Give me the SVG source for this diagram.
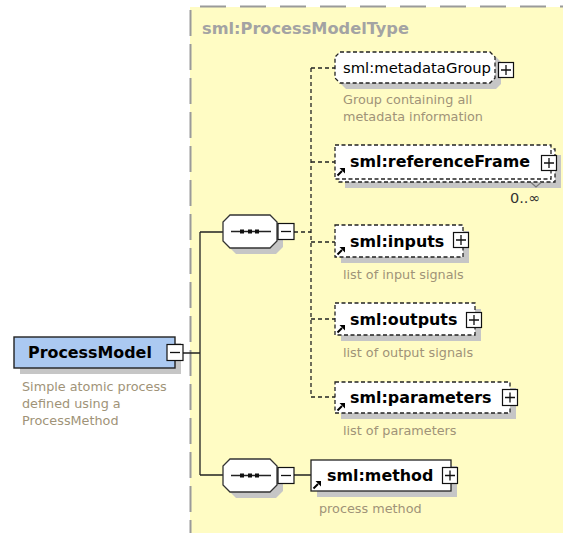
<svg xmlns="http://www.w3.org/2000/svg" width="563" height="533" viewBox="0 0 563 533">
  <style>
    .name { font-family: "DejaVu Sans", Verdana, sans-serif; font-weight: bold; font-size: 15.9px; fill: #000; }
    .gname { font-family: "DejaVu Sans", Verdana, sans-serif; font-size: 14.8px; fill: #000; }
    .desc { font-family: "DejaVu Sans", Verdana, sans-serif; font-size: 12.8px; fill: #a09378; }
    .typelabel { font-family: "DejaVu Sans", Verdana, sans-serif; font-weight: bold; font-size: 16.2px; fill: #a3a3a3; }
    .occ { font-family: "DejaVu Sans", Verdana, sans-serif; font-size: 14.5px; fill: #333; }
    .shadow { fill: #c6c6c6; stroke: none; }
    .optbox { fill: #fff; stroke: #222; stroke-width: 1.3; stroke-dasharray: 4 2.5; }
    .reqbox { fill: #fff; stroke: #222; stroke-width: 1.3; }
    .toggle { fill: #fff; stroke: #111; stroke-width: 1.2; }
    .sign { stroke: #111; stroke-width: 1.3; fill: none; }
    .solid { stroke: #222; stroke-width: 1.3; fill: none; }
    .dashed { stroke: #222; stroke-width: 1.3; fill: none; stroke-dasharray: 4 3; }
  </style>
  <defs>
    <!-- reference arrow drawn at the lower-left corner of referenced elements -->
    <g id="refArrow">
      <line x1="0.5" y1="7.5" x2="5" y2="3" stroke="#000" stroke-width="2"/>
      <polygon points="8,0 8,5.5 2.5,0" fill="#000"/>
    </g>
    <!-- sequence compositor: chamfered octagon with three dots -->
    <g id="sequence">
      <polygon class="shadow" points="13,6 53,6 60,13 60,32 53,39 13,39 6,32 6,13"/>
      <polygon points="7,0 47,0 54,7 54,26 47,33 7,33 0,26 0,7" fill="#fff" stroke="#333" stroke-width="1.3"/>
      <line x1="8" y1="16.5" x2="48" y2="16.5" stroke="#222" stroke-width="1.3"/>
      <rect x="17" y="14.5" width="4" height="4" fill="#111"/>
      <rect x="25" y="14.5" width="4" height="4" fill="#111"/>
      <rect x="32" y="14.5" width="4" height="4" fill="#111"/>
      <rect x="55" y="8.5" width="16" height="16" class="toggle"/>
      <line x1="58" y1="16.5" x2="68" y2="16.5" class="sign"/>
    </g>
  </defs>

  <!-- complex type area -->
  <rect x="190" y="7" width="373" height="526" fill="#fffcc4"/>
  <line x1="190.5" y1="10" x2="190.5" y2="533" stroke="#9a9a9a" stroke-width="2" stroke-dasharray="26 8"/>
  <line x1="200" y1="6.5" x2="563" y2="6.5" stroke="#9a9a9a" stroke-width="2" stroke-dasharray="26 14"/>
  <text class="typelabel" x="202" y="34">sml:ProcessModelType</text>

  <!-- connectors -->
  <g id="connectors">
    <path class="solid" d="M183,353 H200 M200,232 V475 M200,232 H223 M200,475 H223 M294,475 H311"/>
    <path class="dashed" d="M294,232 H311 M311,68 V397 M311,68 H335 M311,162 H335 M311,242 H335 M311,319 H335 M311,397 H335"/>
  </g>

  <!-- root element -->
  <g id="ProcessModel">
    <rect class="shadow" x="20" y="343" width="161" height="31"/>
    <rect x="14" y="337" width="161" height="31" fill="#abc9f1" stroke="#222" stroke-width="1.4"/>
    <text class="name" x="28" y="358" font-size="16.5">ProcessModel</text>
    <rect class="toggle" x="167" y="344.5" width="16" height="16"/>
    <line class="sign" x1="170" y1="352.5" x2="180" y2="352.5"/>
    <text class="desc" x="22" y="391">Simple atomic process</text>
    <text class="desc" x="22" y="408">defined using a</text>
    <text class="desc" x="22" y="425">ProcessMethod</text>
  </g>

  <!-- sequence compositors -->
  <g id="sequence1"><use href="#sequence" x="223" y="215"/></g>
  <g id="sequence2"><use href="#sequence" x="223" y="459"/></g>

  <!-- model group reference -->
  <g id="metadataGroup">
    <polygon class="shadow" points="346,57 496,57 501,62 501,84 496,89 346,89 341,84 341,62"/>
    <polygon class="optbox" points="340,52 490,52 495,57 495,78 490,83 340,83 335,78 335,57"/>
    <text class="gname" x="343" y="73">sml:metadataGroup</text>
    <rect class="toggle" x="498.5" y="62.5" width="15" height="15"/>
    <path class="sign" d="M501,70 H511 M506,65 V75"/>
    <text class="desc" x="343" y="104">Group containing all</text>
    <text class="desc" x="343" y="121">metadata information</text>
  </g>

  <!-- optional, unbounded element -->
  <g id="referenceFrame">
    <rect class="shadow" x="345" y="155" width="216" height="33"/>
    <rect class="optbox" x="339" y="149" width="216" height="33"/>
    <rect class="optbox" x="335" y="145" width="216" height="34"/>
    <polyline points="531,182.5 536,187 541,182.5" fill="none" stroke="#777" stroke-width="1.2"/>
    <use href="#refArrow" x="337" y="168"/>
    <text class="name" x="350" y="167">sml:referenceFrame</text>
    <rect class="toggle" x="541.5" y="155.5" width="15" height="15"/>
    <path class="sign" d="M544,163 H554 M549,158 V168"/>
    <text class="occ" x="510" y="203">0..∞</text>
  </g>

  <g id="inputs">
    <rect class="shadow" x="341" y="231" width="128" height="32"/>
    <rect class="optbox" x="335" y="225" width="128" height="32"/>
    <use href="#refArrow" x="337" y="247"/>
    <text class="name" x="350" y="247">sml:inputs</text>
    <rect class="toggle" x="453.5" y="232.5" width="15" height="15"/>
    <path class="sign" d="M456,240 H466 M461,235 V245"/>
    <text class="desc" x="343" y="279">list of input signals</text>
  </g>

  <g id="outputs">
    <rect class="shadow" x="341" y="309" width="140" height="32"/>
    <rect class="optbox" x="335" y="303" width="140" height="32"/>
    <use href="#refArrow" x="337" y="325"/>
    <text class="name" x="350" y="325">sml:outputs</text>
    <rect class="toggle" x="466.5" y="312.5" width="15" height="15"/>
    <path class="sign" d="M469,320 H479 M474,315 V325"/>
    <text class="desc" x="343" y="357">list of output signals</text>
  </g>

  <g id="parameters">
    <rect class="shadow" x="341" y="388" width="175" height="31"/>
    <rect class="optbox" x="335" y="382" width="175" height="31"/>
    <use href="#refArrow" x="337" y="403"/>
    <text class="name" x="350" y="403">sml:parameters</text>
    <rect class="toggle" x="502.5" y="389.5" width="15" height="16"/>
    <path class="sign" d="M505,397.5 H515 M510,392.5 V402.5"/>
    <text class="desc" x="343" y="435">list of parameters</text>
  </g>

  <g id="method">
    <rect class="shadow" x="317" y="466" width="140" height="31"/>
    <rect class="reqbox" x="311" y="460" width="140" height="31"/>
    <use href="#refArrow" x="313" y="481"/>
    <text class="name" x="327" y="481">sml:method</text>
    <rect class="toggle" x="442.5" y="467.5" width="15" height="16"/>
    <path class="sign" d="M445,475.5 H455 M450,470.5 V480.5"/>
    <text class="desc" x="319" y="513">process method</text>
  </g>
</svg>
